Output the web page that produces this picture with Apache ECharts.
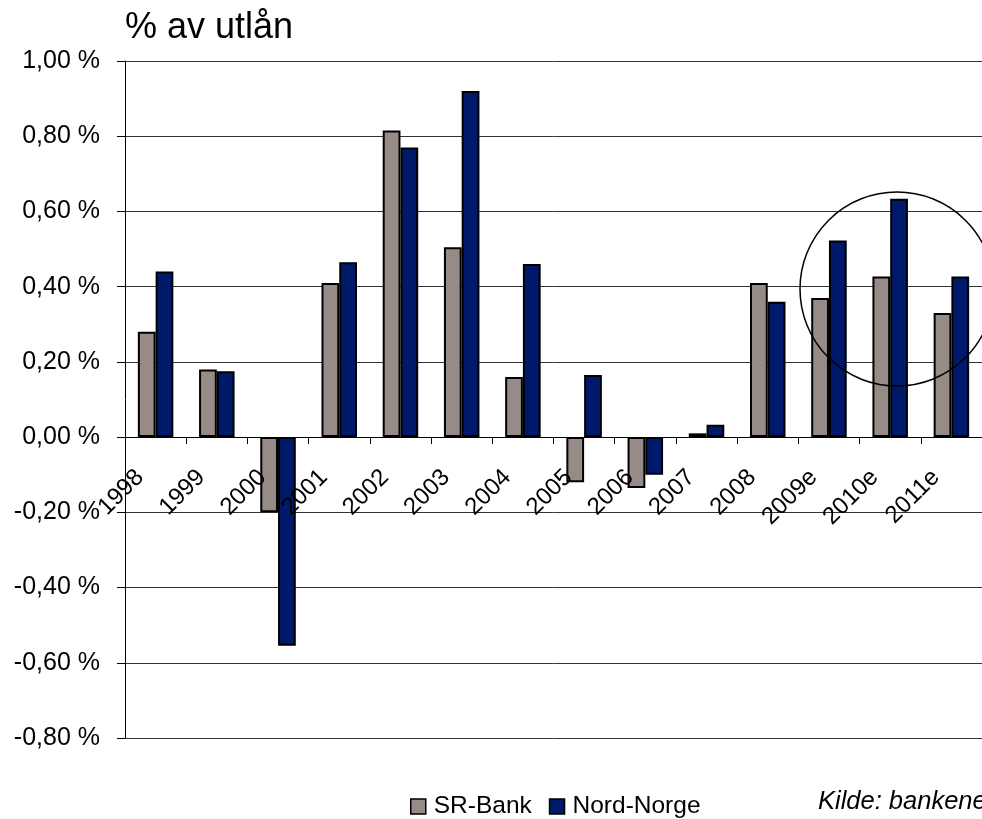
<!DOCTYPE html>
<html>
<head>
<meta charset="utf-8">
<script src="https://cdn.jsdelivr.net/npm/echarts@6/dist/echarts.min.js"></script>
<style>
  html, body { margin: 0; padding: 0; background: #fff; overflow: hidden; }
  #chart { width: 982px; height: 819px; }
</style>
</head>
<body>
<div id="chart"></div>
<script>
// data, in % of loans
var years = ['1998','1999','2000','2001','2002','2003','2004','2005','2006','2007','2008','2009e','2010e','2011e'];
var srBank = [0.28, 0.18, -0.20, 0.41, 0.815, 0.505, 0.16, -0.12, -0.135, 0.01, 0.41, 0.37, 0.427, 0.33];
var nordNorge = [0.44, 0.175, -0.555, 0.465, 0.77, 0.92, 0.46, 0.165, -0.10, 0.033, 0.36, 0.523, 0.634, 0.427];

var font = '"Liberation Sans", Arial, sans-serif';

var myChart = echarts.init(document.getElementById('chart'));
myChart.setOption({
    animation: false,
    backgroundColor: '#fff',
    title: {
        text: '% av utlån',
        left: 120,
        top: 5,
        textStyle: { fontFamily: font, fontSize: 36, fontWeight: 'normal', color: '#000' }
    },
    legend: {
        data: ['SR-Bank', 'Nord-Norge'],
        left: 405,
        top: 789,
        icon: 'rect',
        itemWidth: 15,
        itemHeight: 15,
        itemGap: 17,
        itemStyle: { borderColor: '#000', borderWidth: 1.5 },
        textStyle: { fontFamily: font, fontSize: 24.5, lineHeight: 25, color: '#000', padding: [0, 0, 0, 3] }
    },
    grid: {
        left: 125,
        right: -3,
        top: 61,
        bottom: 81
    },
    xAxis: {
        type: 'category',
        data: years,
        z: 10,
        // axis drawn at the zero line, labels follow it
        offset: -301,
        axisLine: { onZero: false, lineStyle: { color: '#000', width: 1 } },
        axisTick: { show: true, length: 7, lineStyle: { color: '#000' } },
        axisLabel: {
            rotate: 45,
            margin: 21,
            padding: [0, 22, 0, 0],
            interval: 0,
            fontFamily: font,
            fontSize: 24,
            color: '#000'
        },
        splitLine: { show: false }
    },
    yAxis: {
        type: 'value',
        min: -0.8,
        max: 1.0,
        interval: 0.2,
        axisLine: { show: true, lineStyle: { color: '#000', width: 1 } },
        axisTick: { show: true, length: 8, lineStyle: { color: '#000' } },
        axisLabel: {
            margin: 25,
            fontFamily: font,
            fontSize: 25,
            color: '#000',
            formatter: function (v) {
                return v.toFixed(2).replace('.', ',') + ' %';
            }
        },
        splitLine: { show: true, lineStyle: { color: '#333', width: 1 } }
    },
    series: [
        {
            name: 'SR-Bank',
            type: 'bar',
            data: srBank,
            barGap: '0%',
            barCategoryGap: '42%',
            itemStyle: { color: '#978B88', borderColor: '#000', borderWidth: 2 }
        },
        {
            name: 'Nord-Norge',
            type: 'bar',
            data: nordNorge,
            itemStyle: { color: '#001A6B', borderColor: '#000', borderWidth: 2 }
        }
    ],
    graphic: [
        {
            type: 'circle',
            shape: { cx: 897, cy: 289, r: 97 },
            style: { fill: 'none', stroke: '#000', lineWidth: 1.5 },
            z: 100
        },
        {
            type: 'text',
            left: 818,
            top: 789,
            style: {
                text: 'Kilde: bankene',
                fontFamily: font,
                fontSize: 25.5,
                fontStyle: 'italic',
                fill: '#000'
            }
        }
    ]
});
</script>
</body>
</html>
